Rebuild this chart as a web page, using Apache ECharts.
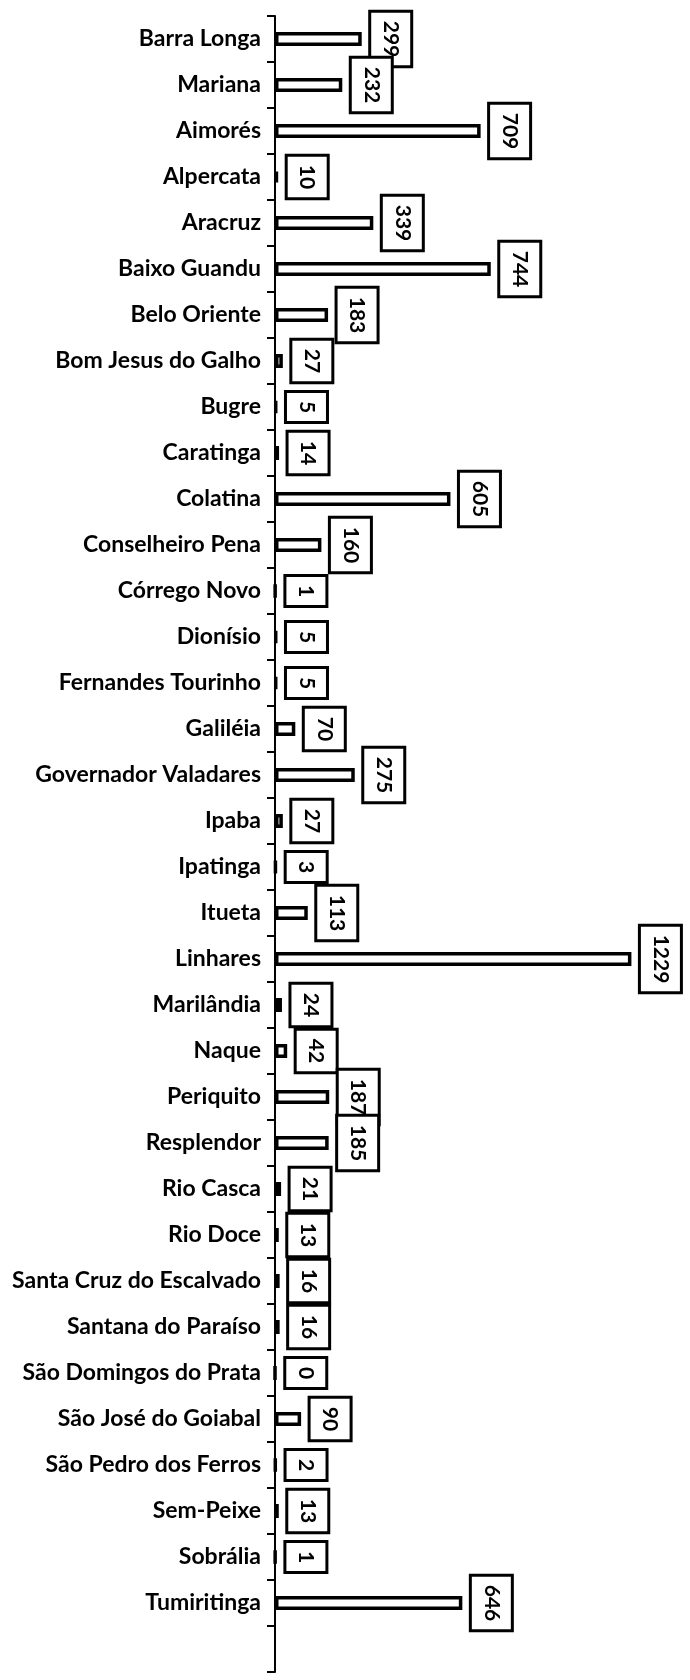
<!DOCTYPE html>
<html>
<head>
<meta charset="utf-8">
<script src="https://cdn.jsdelivr.net/npm/echarts@6/dist/echarts.min.js"></script>
<style>
  html,body{margin:0;padding:0;background:#fff;}
  #chart{width:690px;height:1680px;}
</style>
</head>
<body>
<div id="chart"></div>
<script>
// municipios e valores (de cima para baixo)
var municipios = ['Barra Longa','Mariana','Aimorés','Alpercata','Aracruz','Baixo Guandu','Belo Oriente',
  'Bom Jesus do Galho','Bugre','Caratinga','Colatina','Conselheiro Pena','Córrego Novo','Dionísio',
  'Fernandes Tourinho','Galiléia','Governador Valadares','Ipaba','Ipatinga','Itueta','Linhares',
  'Marilândia','Naque','Periquito','Resplendor','Rio Casca','Rio Doce','Santa Cruz do Escalvado',
  'Santana do Paraíso','São Domingos do Prata','São José do Goiabal','São Pedro dos Ferros',
  'Sem-Peixe','Sobrália','Tumiritinga'];
var valores = [299,232,709,10,339,744,183,27,5,14,605,160,1,5,5,70,275,27,3,113,1229,
  24,42,187,185,21,13,16,16,0,90,2,13,1,646];

// slot vazio no fim do eixo, como no original
var categorias = municipios.concat(['']);
var dados = valores.concat([null]);

var chart = echarts.init(document.getElementById('chart'));
var option = {
  animation: false,
  grid: {left: 275, right: 9, top: 16, height: 1656},
  xAxis: {
    type: 'value',
    min: 0,
    max: 1400,
    show: false,
    splitLine: {show: false}
  },
  yAxis: {
    type: 'category',
    inverse: true,
    data: categorias,
    axisLine: {show: true, lineStyle: {color: '#000', width: 2}},
    axisTick: {show: true, length: 8, lineStyle: {color: '#000', width: 2}},
    axisLabel: {
      margin: 14,
      interval: 0,
      color: '#000',
      fontFamily: 'Lato',
      fontWeight: 'bold',
      fontSize: 23
    }
  },
  series: [{
    type: 'bar',
    data: dados,
    barWidth: 14,
    itemStyle: {color: '#fff', borderColor: '#000', borderWidth: 3.5},
    label: {
      show: true,
      position: 'right',
      distance: 29,
      rotate: -90,
      align: 'center',
      verticalAlign: 'middle',
      formatter: '{c}',
      color: '#000',
      fontFamily: 'Lato',
      fontWeight: 'bold',
      fontSize: 21,
      lineHeight: 21,
      backgroundColor: '#fff',
      borderColor: '#000',
      borderWidth: 3,
      padding: [9, 8]
    }
  }]
};
chart.setOption(option);
</script>
</body>
</html>
